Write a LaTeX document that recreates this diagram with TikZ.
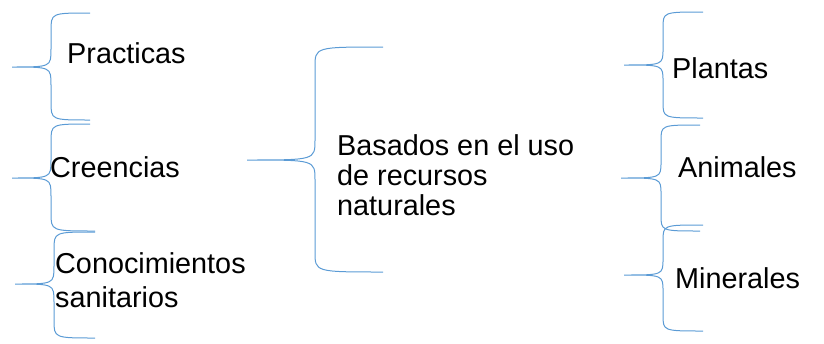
\documentclass[tikz,border=0pt]{standalone}
\usepackage{fontspec}
\setmainfont{Liberation Sans}
\definecolor{llaveazul}{RGB}{91,155,213}
\tikzset{
  llave/.style = {draw=llaveazul, line width=1pt},
  texto/.style = {font=\fontsize{28.8}{30}\selectfont, inner sep=0pt, anchor=base west, align=left}
}
% brace opening to the right: tip x, tip y, spine x, top end x, top y, bottom end x, bottom y, corner radius
\newcommand{\llave}[8]{%
  \draw[llave] (#4,#5) .. controls (#3,#5) .. (#3,#5+#8) -- (#3,#2-#8)
    .. controls (#3,#2) .. (#1,#2)
    .. controls (#3,#2) .. (#3,#2+#8) -- (#3,#7-#8)
    .. controls (#3,#7) .. (#6,#7);}
\begin{document}
\begin{tikzpicture}[x=1pt, y=-1pt]
  \useasboundingbox (0,0) rectangle (824,343);
  % left column
  \llave{12}{67}{51}{90}{13}{90}{120}{18}
  \llave{12}{178}{51}{90}{124}{95}{231}{18}
  \llave{15}{284}{54}{95}{232}{95}{338}{18}
  % middle
  \llave{247}{160}{315}{383}{47}{383}{272}{20}
  % right column
  \llave{624}{65}{663}{703}{12}{703}{118}{16}
  \llave{621}{178}{661}{700}{125}{700}{231}{16}
  \llave{624}{275}{663}{703}{225}{703}{331}{16}

  \node[texto] (practicas) at (67,63) {Practicas};
  \node[texto] (creencias) at (50,177) {Creencias};
  \node[texto] (conocimientos) at (55,307) {Conocimientos\\[4pt]sanitarios};
  \node[texto] (basados) at (337,215) {Basados en el uso\\de recursos\\naturales};
  \node[texto] (plantas) at (672,78) {Plantas};
  \node[texto] (animales) at (678,177) {Animales};
  \node[texto] (minerales) at (675,288) {Minerales};
\end{tikzpicture}
\end{document}
